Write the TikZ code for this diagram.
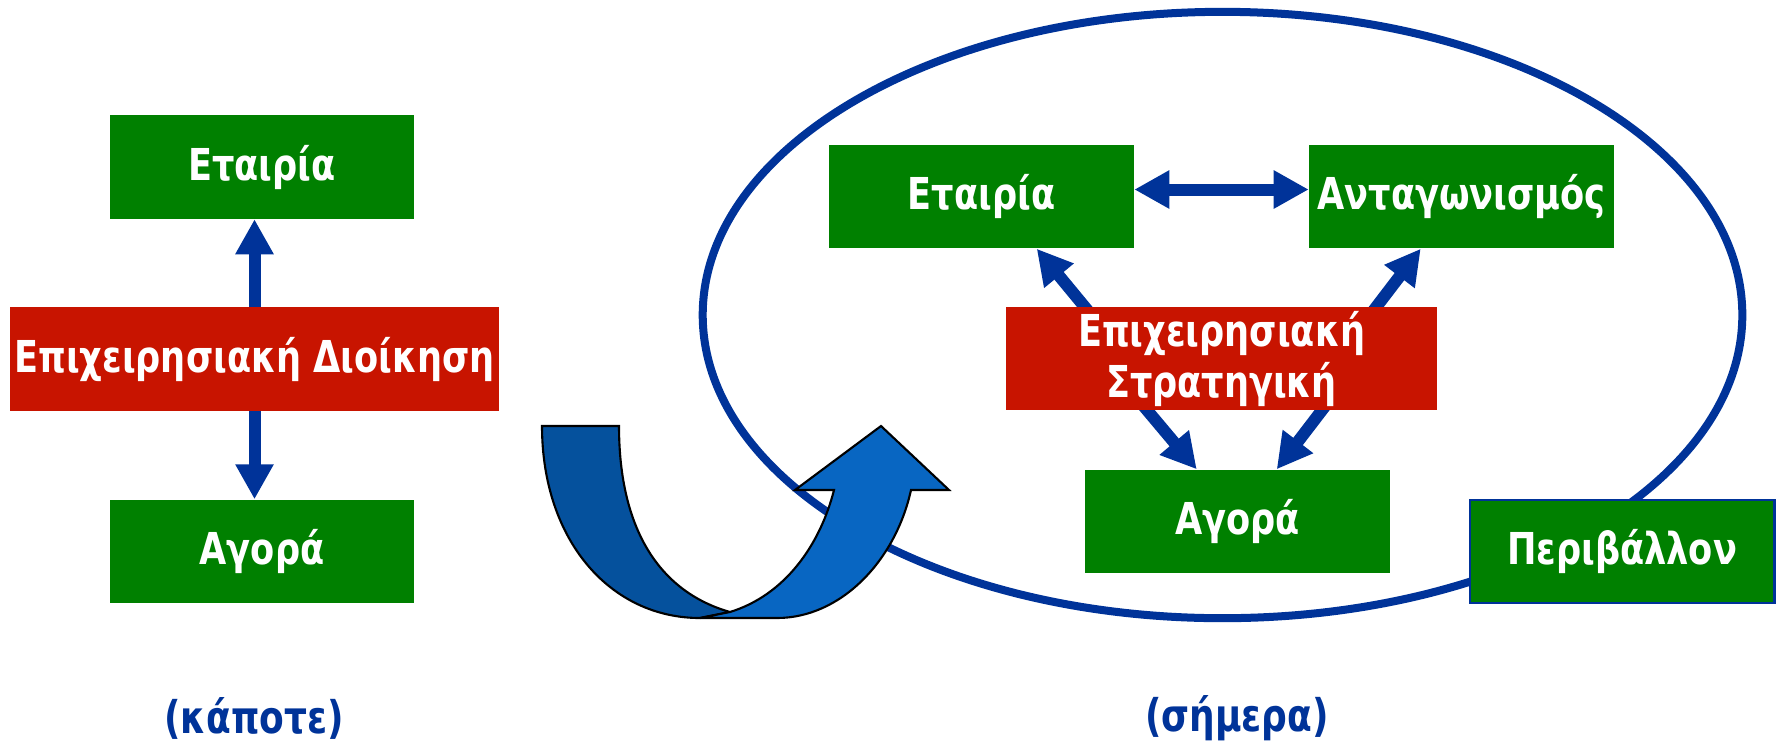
\documentclass[tikz,border=0pt]{standalone}
\usepackage{fontspec}
\setmainfont{DejaVu Sans}[FakeStretch=0.8]
\usetikzlibrary{arrows.meta,calc,backgrounds}
\definecolor{boxgreen}{RGB}{0,128,0}
\definecolor{boxred}{RGB}{200,20,0}
\definecolor{linkblue}{RGB}{0,51,153}
\definecolor{turndark}{RGB}{5,81,157}
\definecolor{turnlight}{RGB}{8,102,194}

\begin{document}
\begin{tikzpicture}[x=0.01cm, y=-0.01cm,
  every node/.style={text=white, font=\fontsize{12.5}{14.5}\selectfont\bfseries, inner sep=0pt, align=center},
  gbox/.style={fill=boxgreen, minimum width=3.04cm, minimum height=1.03cm},
  rbox/.style={fill=boxred, minimum height=1.03cm},
  link/.style={line width=0.12cm, draw=linkblue, -{Triangle[length=0.35cm, width=0.36cm]}},
  twolink/.style={link, {Triangle[length=0.35cm, width=0.36cm]}-{Triangle[length=0.35cm, width=0.36cm]}},
  era/.style={text=linkblue, font=\fontsize{12.8}{15}\selectfont\bfseries}]
\useasboundingbox (0,0) rectangle (1777,742);
% left: then
\node[gbox] (LFirm) at (262,167) {Εταιρία};
\node[rbox, minimum width=4.89cm] (LMgmt) at (254.5,359) {Επιχειρησιακή Διοίκηση};
\node[gbox] (LMarket) at (262,551.5) {Αγορά};
\node[era] (LThen) at (254,718) {(κάποτε)};
\begin{scope}[on background layer]
\draw[link] (LMgmt) -- (LMgmt |- LFirm.south);
\draw[link] (LMgmt) -- (LMgmt |- LMarket.north);
\end{scope}
% right: now
\draw[linkblue, line width=0.08cm] (1222.5,315) ellipse [x radius=5.195cm, y radius=3.03cm];
\node[gbox] (RFirm) at (981.5,196.5) {Εταιρία};
\node[gbox] (RRival) at (1461.5,196.5) {Ανταγωνισμός};
\node[rbox, minimum width=4.31cm] (RStrat) at (1221.5,358.5) {Επιχειρησιακή\\Στρατηγική};
\node[gbox] (RMarket) at (1237.5,521.5) {Αγορά};
\node[gbox, draw=linkblue, line width=0.8pt] (REnv) at (1622,551.5) {Περιβάλλον};
\node[era] (RNow) at (1237,718) {(σήμερα)};
\draw[twolink] ($(RFirm.east)+(0,-7)$) -- ($(RRival.west)+(0,-7)$);
\begin{scope}[on background layer]
\draw[link] ($(RStrat.north west)+(98,23)$) -- ($(RFirm.south west)+(208,0)$);
\draw[link] ($(RStrat.north west)+(354,23)$) -- ($(RRival.south west)+(112,0)$);
\draw[link] ($(RStrat.south west)+(123,-23)$) -- ($(RMarket.north west)+(112,0)$);
\draw[link] ($(RStrat.south west)+(334,-23)$) -- ($(RMarket.north west)+(192,0)$);
\end{scope}
% u-turn arrow
\draw[fill=turndark, line width=0.6pt] (542,426) -- (619,426)
  .. controls (619,530) and (660,592) .. (730,612) -- (700,618)
  .. controls (610,618) and (542,540) .. cycle;
\draw[fill=turnlight, line width=0.6pt] (700,618) -- (777,618)
  .. controls (840,618) and (895,562) .. (911,490) -- (949,490) -- (881,426)
  -- (795,490) -- (834,490) .. controls (820,545) and (785,595) .. (730,612)
  -- cycle;
\end{tikzpicture}
\end{document}
